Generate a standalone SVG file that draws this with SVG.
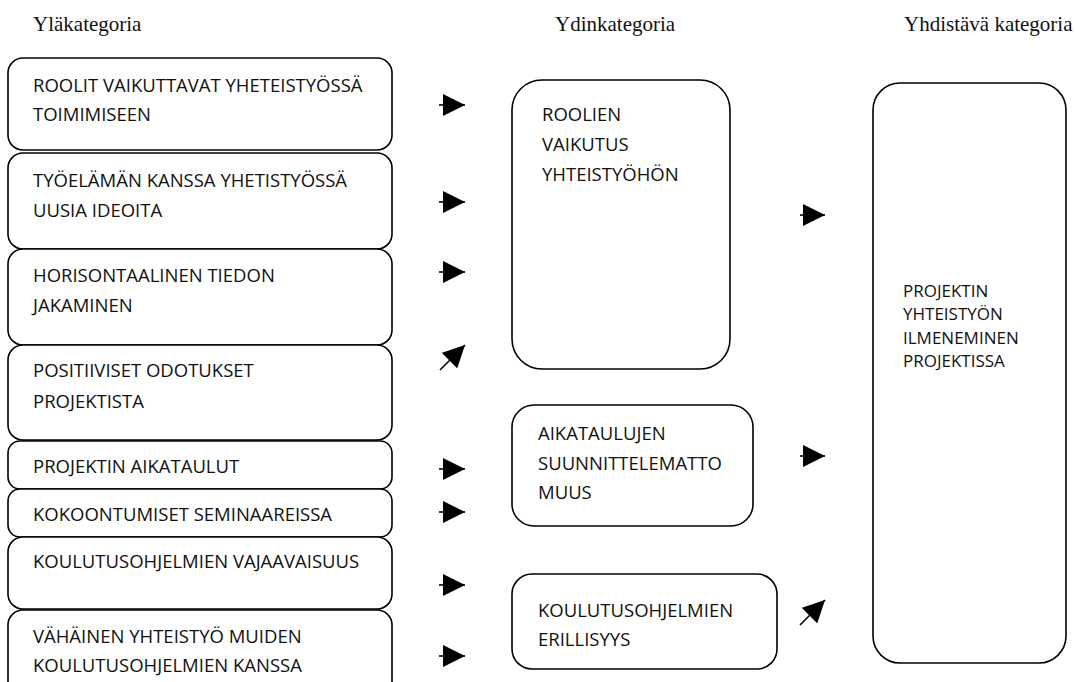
<svg xmlns="http://www.w3.org/2000/svg" width="1075" height="682" viewBox="0 0 1075 682">
  <style>
    .hdr { font-family: "Liberation Serif", "Times New Roman", serif; font-size: 21px; fill: #111; }
    .box { fill: #fff; stroke: #000; stroke-width: 1.6; }
    .lbl { font-family: "Open Sans", "Noto Sans", sans-serif; font-size: 18.5px; fill: #111; }
    .lbl-sm { font-family: "Open Sans", "Noto Sans", sans-serif; font-size: 17px; fill: #111; }
    .arr { fill: none; stroke: #000; stroke-width: 1.6; marker-end: url(#head); }
  </style>
  <defs>
    <marker id="head" markerUnits="userSpaceOnUse" markerWidth="22" markerHeight="22" viewBox="0 0 20 20" refX="20" refY="10" orient="auto">
      <path d="M0,0 L20,10 L0,20 Z" fill="#000"/>
    </marker>
  </defs>
  <rect width="1075" height="682" fill="#fff"/>

  <!-- column headings -->
  <text class="hdr" x="33" y="31">Yläkategoria</text>
  <text class="hdr" x="555" y="31">Ydinkategoria</text>
  <text class="hdr" x="904" y="31">Yhdistävä kategoria</text>

  <!-- upper categories -->
  <g id="u1">
    <rect class="box" x="8" y="58" width="384" height="92" rx="15"/>
    <text class="lbl" x="33" y="92">ROOLIT VAIKUTTAVAT YHETEISTYÖSSÄ</text>
    <text class="lbl" x="33" y="121">TOIMIMISEEN</text>
  </g>
  <g id="u2">
    <rect class="box" x="8" y="153" width="384" height="96" rx="15"/>
    <text class="lbl" x="33" y="187">TYÖELÄMÄN KANSSA YHETISTYÖSSÄ</text>
    <text class="lbl" x="33" y="217">UUSIA IDEOITA</text>
  </g>
  <g id="u3">
    <rect class="box" x="8" y="249" width="384" height="96" rx="15"/>
    <text class="lbl" x="33" y="282">HORISONTAALINEN TIEDON</text>
    <text class="lbl" x="33" y="312">JAKAMINEN</text>
  </g>
  <g id="u4">
    <rect class="box" x="8" y="345" width="384" height="95" rx="15"/>
    <text class="lbl" x="33" y="377">POSITIIVISET ODOTUKSET</text>
    <text class="lbl" x="33" y="408">PROJEKTISTA</text>
  </g>
  <g id="u5">
    <rect class="box" x="8" y="441" width="384" height="48" rx="12"/>
    <text class="lbl" x="33" y="473">PROJEKTIN AIKATAULUT</text>
  </g>
  <g id="u6">
    <rect class="box" x="8" y="489" width="384" height="48" rx="12"/>
    <text class="lbl" x="33" y="521">KOKOONTUMISET SEMINAAREISSA</text>
  </g>
  <g id="u7">
    <rect class="box" x="8" y="537" width="384" height="72" rx="15"/>
    <text class="lbl" x="33" y="568">KOULUTUSOHJELMIEN VAJAAVAISUUS</text>
  </g>
  <g id="u8">
    <rect class="box" x="8" y="610" width="384" height="90" rx="15"/>
    <text class="lbl" x="33" y="643">VÄHÄINEN YHTEISTYÖ MUIDEN</text>
    <text class="lbl" x="33" y="672">KOULUTUSOHJELMIEN KANSSA</text>
  </g>

  <!-- core categories -->
  <g id="c1">
    <rect class="box" x="512" y="80" width="218" height="289" rx="30"/>
    <text class="lbl" x="542" y="121">ROOLIEN</text>
    <text class="lbl" x="542" y="151">VAIKUTUS</text>
    <text class="lbl" x="542" y="181">YHTEISTYÖHÖN</text>
  </g>
  <g id="c2">
    <rect class="box" x="512" y="405" width="241" height="121" rx="22"/>
    <text class="lbl" x="538" y="440">AIKATAULUJEN</text>
    <text class="lbl" x="538" y="470">SUUNNITTELEMATTO</text>
    <text class="lbl" x="538" y="499">MUUS</text>
  </g>
  <g id="c3">
    <rect class="box" x="512" y="574" width="265" height="95" rx="20"/>
    <text class="lbl" x="538" y="617">KOULUTUSOHJELMIEN</text>
    <text class="lbl" x="538" y="646">ERILLISYYS</text>
  </g>

  <!-- combining category -->
  <g id="k1">
    <rect class="box" x="873" y="83" width="193" height="580" rx="27"/>
    <text class="lbl-sm" x="903" y="297">PROJEKTIN</text>
    <text class="lbl-sm" x="903" y="320">YHTEISTYÖN</text>
    <text class="lbl-sm" x="903" y="344">ILMENEMINEN</text>
    <text class="lbl-sm" x="903" y="367">PROJEKTISSA</text>
  </g>

  <!-- connectors -->
  <g id="connectors">
    <path class="arr" d="M439,105 H465"/>
    <path class="arr" d="M439,202 H465"/>
    <path class="arr" d="M439,272 H465"/>
    <path class="arr" d="M440,370 L465,345"/>
    <path class="arr" d="M439,469 H465"/>
    <path class="arr" d="M439,512 H465"/>
    <path class="arr" d="M439,585 H465"/>
    <path class="arr" d="M439,656 H465"/>
    <path class="arr" d="M800,215 H825"/>
    <path class="arr" d="M800,456 H825"/>
    <path class="arr" d="M800,625 L825,600"/>
  </g>
</svg>
